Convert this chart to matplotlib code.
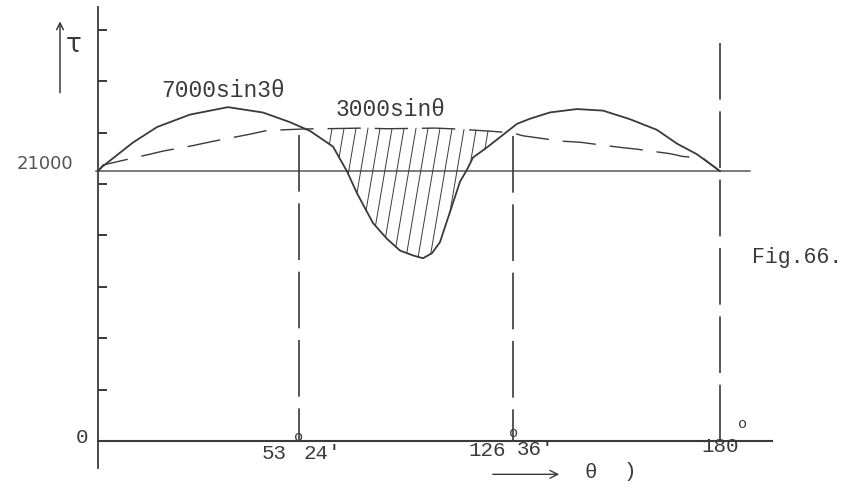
import numpy as np
import matplotlib
matplotlib.use("Agg")
import matplotlib.pyplot as plt

# ---------------- data ----------------
theta_solid = [0, 1.06, 9.30, 15.67, 24.44, 34.54, 43.84, 51.01, 57.16, 65.03,
               69.82, 73.24, 78.71, 83.50, 87.95, 92.39, 95.82, 98.9, 101.63,
               105.05, 108.47, 110.87, 112.92, 117.71, 122.15, 127.63, 130.99,
               136.15, 143.11, 149.82, 156.78, 163.75, 168.91, 174.07, 180]
tau_solid = [21000, 21330, 23230, 24430, 25400, 25980, 25560, 24810, 24130, 22910,
             20980, 19280, 16960, 15730, 14820, 14440, 14220, 14620, 15480,
             17830, 20180, 21120, 22060, 22850, 23640, 24680, 25080,
             25570, 25830, 25710, 25040, 24210, 23140, 22310, 21000]

theta_dash = [0, 1.33, 13.81, 17.27, 25.24, 30.55, 39.58, 44.9, 54.77, 64.69,
              75.29, 83.5, 99.92, 106.08, 119.42, 126.6, 129.18, 139.24, 143.88,
              154.2, 158.58, 167.1, 170.45, 175.61, 180]
tau_dash = [21000, 21480, 22320, 22560, 22990, 23320, 23830, 24160, 24280, 24310,
            24350, 24300, 24350, 24290, 24100, 23970, 23750, 23330, 23250,
            22850, 22710, 22360, 22140, 22010, 21000]

ref_level = 21000
y_ticks = [4000, 8000, 12000, 16000, 20000, 24000, 28000, 32000]
x_marks = [53.4, 126.6, 180]          # 53°24', 126°36', 180°
x_mark_tops = [23810, 23740, 31000]
label_solid = "7000sin3θ"
label_dash = "3000sinθ"
label_fig = "Fig.66."

# ---------------- hand-drawn (non-uniform) theta scale ----------------
knot_deg = np.array([-400, 0, 53.4, 126.6, 180, 600])
knot_pos = np.array([-1407.6, 98, 299, 513, 720, 2348.1])


def fwd(x):
    return np.interp(x, knot_deg, knot_pos)


def inv(p):
    return np.interp(p, knot_pos, knot_deg)


def P(px, py):
    """layout helper: reference-pixel position -> data coordinates"""
    return float(inv(px)), (441 - (py - (px - 98) * 0.0145)) * 77.82


ink = "#3a3a3a"
mono = ["Liberation Mono", "DejaVu Sans Mono"]

fig = plt.figure(figsize=(8.49, 4.93), dpi=100)
ax = fig.add_axes([0, 0, 1, 1])
ax.set_xscale("function", functions=(fwd, inv))
ax.set_xlim(-26.04, 213.28)
ax.set_ylim(-4047, 34318)
ax.axis("off")

# axes drawn by hand
ax.plot([0, 0], [-2100, 33770], color=ink, lw=1.3)
ax.plot([0, 193.4], [0, 0], color=ink, lw=1.5)
ax.plot([-0.5, 187.7], [ref_level, ref_level], color=ink, lw=1.1, alpha=0.85)
ax.hlines(y_ticks, 0, 2.4, color=ink, lw=1.4)

# vertical marker lines
for xm, top in zip(x_marks, x_mark_tops):
    bottom = -400 if xm == 180 else 0
    ax.plot([xm, xm], [top, bottom], color=ink, lw=1.2, ls=(0, (34, 7)))

# curves
ax.plot(theta_solid, tau_solid, color=ink, lw=1.3, solid_joinstyle="round")
ax.plot(theta_dash, tau_dash, color=ink, lw=1.0, ls=(0, (24, 10)))

# hatching between the curves (computed in display space)
fig.canvas.draw()
T = ax.transData
thd = np.linspace(50, 130, 4000)
sd = T.transform(np.column_stack([thd, np.interp(thd, theta_solid, tau_solid)]))
dd = T.transform(np.column_stack([thd, np.interp(thd, theta_dash, tau_dash)]))
for xt in np.arange(332, 494, 12.0):
    yt = np.interp(xt, dd[:, 0], dd[:, 1])
    u = np.arange(0, 250, 0.25)
    xs = xt - 0.17 * u
    ys = yt - u
    ysol = np.interp(xs, sd[:, 0], sd[:, 1])
    below = np.nonzero(ys <= ysol)[0]
    if len(below) == 0 or below[0] == 0:
        continue
    k = below[0]
    seg = T.inverted().transform(np.array([[xt, yt], [xs[k], ys[k]]]))
    ax.plot(seg[:, 0], seg[:, 1], color=ink, lw=0.7)

# texts
ax.text(*P(223, 92), label_solid, family=mono, fontsize=16.5, color=ink,
        ha="center", va="center")
ax.text(*P(391, 114), label_dash, family=mono, fontsize=16.5, color=ink,
        ha="center", va="center")
ax.text(*P(797, 268), label_fig, family=mono, fontsize=15.5, color=ink,
        ha="center", va="center")
ax.text(*P(45, 163), "21000", family=["DejaVu Sans"], fontsize=13, color="#555555",
        ha="center", va="center")
ax.text(*P(82, 437), "0", family=mono, fontsize=15, color=ink, ha="center", va="center")

# bottom tick labels
ax.text(*P(287, 456), "53", family=mono, fontsize=15, color=ink, ha="right", va="center")
ax.text(*P(299, 440), "o", family=mono, fontsize=11, color=ink, ha="center", va="center")
ax.text(*P(303, 456), "24'", family=mono, fontsize=15, color=ink, ha="left", va="center")
ax.text(*P(506, 456), "126", family=mono, fontsize=15, color=ink, ha="right", va="center")
ax.text(*P(514, 439), "o", family=mono, fontsize=11, color=ink, ha="center", va="center")
ax.text(*P(517, 456), "36'", family=mono, fontsize=15, color=ink, ha="left", va="center")
ax.text(*P(720, 456), "180", family=mono, fontsize=15, color=ink, ha="center", va="center")
ax.text(*P(743, 433), "o", family=mono, fontsize=11, color=ink, ha="center", va="center")

# theta arrow and symbols
a0 = P(490, 480)
a1 = (P(562, 480)[0], a0[1])
ax.annotate("", xy=a1, xytext=a0,
            arrowprops=dict(arrowstyle="->", lw=1.0, color=ink, mutation_scale=14))
ax.text(P(591, 477)[0], a0[1] + 150, "θ", family=mono, fontsize=15, color=ink,
        ha="center", va="center")
ax.text(P(630, 476)[0], a0[1] + 200, ")", family=mono, fontsize=15, color=ink,
        ha="center", va="center")

# tau arrow
ax.annotate("", xy=P(60, 18), xytext=P(60, 95),
            arrowprops=dict(arrowstyle="->", lw=1.1, color=ink, mutation_scale=12))
ax.text(*P(74, 45), "τ", family=["DejaVu Sans"], fontsize=19, color=ink,
        ha="center", va="center")

fig.savefig("out.png", dpi=100, facecolor="white")
